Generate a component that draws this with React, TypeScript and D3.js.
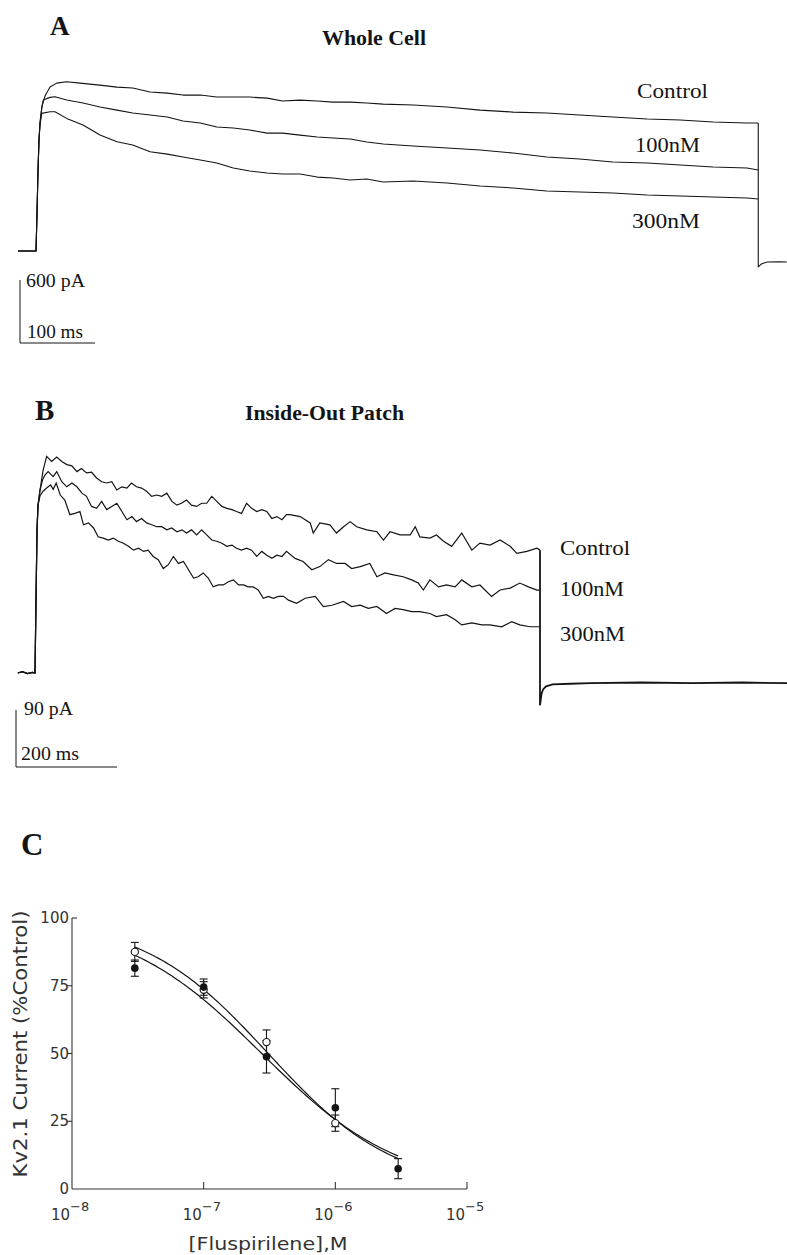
import React from "react";
import * as d3 from "d3";

type Pt = [number, number];

// ---------- Panel A: whole-cell Kv2.1 currents, [time (ms), current (pA)] ----------
const wholeCellControl: Pt[] = [
  [-24, 0], [0, 0], [1.3, 343], [2.7, 771], [4, 1057], [5.3, 1228], [8, 1380], [12, 1476], [18.7, 1561],
  [27.6, 1599], [40.9, 1612], [58.7, 1599], [85, 1580], [108, 1561], [129, 1552], [152, 1514], [175, 1504],
  [196, 1485], [219, 1485], [241, 1466], [263, 1466], [285, 1466], [308, 1456], [329, 1428], [352, 1437],
  [375, 1428], [396, 1418], [419, 1418], [441, 1409], [463, 1399], [503, 1390], [548, 1371], [592, 1342],
  [636, 1323], [681, 1314], [725, 1295], [769, 1276], [815, 1257], [859, 1247], [903, 1228], [948, 1219],
  [963, 1219],
];
const wholeCell100nM: Pt[] = [
  [-24, 0], [0, 0], [1.3, 343], [2.7, 771], [4, 1057], [5.3, 1200], [7.6, 1360], [9.7, 1438], [18.7, 1463],
  [25.3, 1469], [40.9, 1438], [62.7, 1409], [85.3, 1371], [108, 1342], [129, 1314], [152, 1295], [175, 1276],
  [196, 1238], [219, 1219], [241, 1181], [263, 1171], [285, 1152], [308, 1123], [329, 1123], [352, 1104],
  [375, 1085], [396, 1076], [419, 1066], [441, 1038], [463, 1019], [503, 1000], [548, 981], [592, 962],
  [636, 933], [681, 895], [725, 876], [769, 847], [815, 838], [859, 819], [903, 800], [948, 790], [963, 771],
];
const wholeCell300nM: Pt[] = [
  [-24, 0], [0, 0], [1.3, 343], [2.7, 771], [4, 1057], [5.3, 1200], [7.6, 1311], [18.7, 1326], [25.3, 1326],
  [40.9, 1263], [62.7, 1200], [85.3, 1104], [108, 1040], [129, 1009], [152, 945], [175, 923], [196, 895],
  [219, 866], [241, 838], [263, 790], [285, 762], [308, 743], [329, 733], [352, 733], [375, 704], [396, 695],
  [419, 676], [441, 685], [463, 657], [503, 666], [548, 647], [592, 619], [636, 600], [681, 571], [725, 562],
  [769, 552], [815, 533], [859, 524], [903, 514], [948, 505], [963, 495],
];
const wholeCellTail: Pt[] = [
  [963, 1219], [963, -152], [967, -124], [975, -105], [990, -102], [1001, -105],
];
const wholeCellLabels = ["Control", "100nM", "300nM"];

// ---------- Panel B: inside-out patch currents, [time (ms), current (pA)] ----------
const patchControl: Pt[] = [
  [-34, 0], [-25, 2], [-15, -1], [-5, 1], [0, 0], [2, 115], [4, 226], [6, 265], [10, 289], [16, 320],
  [23, 342], [33, 334], [43, 341], [53, 334], [63, 329], [73, 327], [83, 318], [92, 323], [102, 316],
  [112, 317], [122, 308], [132, 302], [142, 300], [152, 302], [162, 289], [172, 294], [182, 292], [191, 300],
  [201, 294], [211, 292], [221, 287], [231, 279], [241, 281], [251, 279], [261, 284], [271, 271], [281, 265],
  [290, 268], [300, 273], [310, 265], [320, 263], [330, 268], [340, 268], [350, 279], [360, 271], [370, 263],
  [380, 260], [390, 258], [399, 255], [409, 252], [419, 268], [429, 260], [439, 255], [449, 258], [459, 255],
  [469, 244], [479, 247], [489, 242], [498, 250], [505, 250], [525, 247], [545, 237], [551, 221], [564, 237],
  [584, 234], [597, 221], [611, 231], [624, 239], [637, 231], [657, 226], [677, 223], [690, 210], [703, 223],
  [723, 218], [743, 218], [753, 231], [762, 215], [782, 213], [795, 218], [809, 208], [825, 200], [845, 221],
  [865, 194], [881, 205], [901, 202], [921, 210], [941, 200], [954, 189], [974, 192], [994, 197], [1000, 194],
];
const patch100nM: Pt[] = [
  [-34, 0], [-25, 2], [-15, -1], [-5, 1], [0, 0], [2, 115], [4, 226], [6, 265], [10, 289], [15, 305],
  [20, 313], [26, 318], [36, 310], [43, 318], [53, 302], [63, 294], [73, 300], [83, 294], [93, 284],
  [102, 279], [112, 263], [122, 260], [132, 271], [142, 258], [152, 263], [162, 268], [172, 255], [182, 242],
  [192, 247], [201, 239], [211, 244], [221, 237], [231, 234], [241, 231], [251, 231], [261, 226], [271, 229],
  [281, 223], [291, 226], [300, 221], [310, 226], [320, 218], [330, 226], [340, 218], [350, 210], [360, 208],
  [370, 205], [380, 200], [390, 202], [399, 197], [409, 194], [419, 197], [429, 194], [439, 184], [449, 192],
  [459, 186], [469, 181], [479, 186], [489, 184], [498, 192], [515, 181], [531, 176], [548, 163], [564, 168],
  [581, 179], [597, 173], [614, 173], [627, 165], [644, 168], [663, 173], [677, 152], [693, 158], [710, 155],
  [729, 152], [746, 147], [759, 142], [769, 131], [782, 147], [799, 136], [815, 139], [832, 136], [845, 147],
  [865, 136], [881, 139], [904, 121], [921, 131], [941, 134], [960, 142], [977, 136], [994, 131], [1000, 131],
];
const patch300nM: Pt[] = [
  [-34, 0], [-25, 2], [-15, -1], [-5, 1], [0, 0], [2, 115], [4, 226], [6, 265], [10, 280], [16, 287],
  [23, 292], [31, 297], [36, 290], [42, 300], [50, 281], [59, 273], [69, 250], [79, 252], [89, 255],
  [96, 234], [106, 237], [116, 229], [125, 215], [135, 213], [145, 210], [155, 213], [165, 208], [175, 205],
  [185, 200], [195, 194], [205, 197], [215, 192], [224, 194], [234, 184], [244, 179], [254, 165], [264, 171],
  [274, 184], [284, 173], [294, 176], [304, 163], [314, 150], [323, 152], [333, 158], [343, 150], [353, 136],
  [363, 139], [373, 139], [383, 144], [393, 147], [403, 139], [413, 139], [422, 136], [432, 136], [442, 131],
  [452, 118], [462, 121], [472, 118], [482, 121], [492, 121], [502, 115], [518, 110], [535, 118], [555, 121],
  [571, 105], [588, 107], [611, 113], [627, 105], [644, 107], [660, 102], [677, 105], [696, 94], [713, 102],
  [729, 100], [746, 97], [762, 97], [782, 94], [795, 89], [815, 92], [832, 84], [845, 76], [865, 79],
  [885, 76], [901, 76], [924, 73], [944, 81], [960, 76], [980, 73], [1000, 73],
];
const patchTail: Pt[] = [
  [1000, 194], [1000, -51], [1003, -33], [1006, -26], [1012, -21], [1025, -18], [1060, -17], [1100, -16],
  [1200, -15], [1300, -16], [1400, -15], [1490, -16],
];
const patchLabels = ["Control", "100nM", "300nM"];

// ---------- Panel C: concentration–response ----------
const concentrations = [3e-8, 1e-7, 3e-7, 1e-6, 3e-6];
const openMean = [87.5, 73.5, 54.2, 24.3];
const openErr = [3.5, 3, 4.5, 3];
const filledMean = [81.5, 74.5, 48.8, 30, 7.5];
const filledErr = [3, 3, 6, 7, 3.7];
// Hill fits: IC50 (M) and Hill coefficient
const openFit = { ic50: 3.09e-7, hill: 0.909 };
const filledFit = { ic50: 2.76e-7, hill: 0.828 };
const xTickExps = [-8, -7, -6, -5];
const yTicks = [0, 25, 50, 75, 100];

const SERIF = "'Liberation Serif', 'Times New Roman', serif";
const PLOT = "'DejaVu Sans', 'Liberation Sans', sans-serif";
const INK = "#141414";

export default function App() {
  // Panel A scales
  const xA = d3.scaleLinear().domain([0, 100]).range([36, 111]);
  const yA = d3.scaleLinear().domain([0, 600]).range([251, 188]);
  const lineA = d3.line<Pt>().x((d) => xA(d[0])).y((d) => yA(d[1]));

  // Panel B scales
  const xB = d3.scaleLinear().domain([0, 1000]).range([35, 540]);
  const yB = d3.scaleLinear().domain([0, 90]).range([673, 616]);
  const lineB = d3.line<Pt>().x((d) => xB(d[0])).y((d) => yB(d[1]));

  // Panel C scales
  const xC = d3.scaleLog().domain([1e-8, 1e-5]).range([72, 467]);
  const yC = d3.scaleLinear().domain([0, 100]).range([1189, 918]);
  const hill = (f: { ic50: number; hill: number }) => (c: number) =>
    100 / (1 + Math.pow(c / f.ic50, f.hill));
  const fitCurve = (f: { ic50: number; hill: number }) => {
    const g = hill(f);
    const logs = d3.range(Math.log10(3e-8), Math.log10(3e-6) + 1e-9, 0.02);
    return d3
      .line<number>()
      .x((l) => xC(Math.pow(10, l)))
      .y((l) => yC(g(Math.pow(10, l))))(logs) as string;
  };

  const barA = { x: 20, y: 343 };
  const barB = { x: 16, y: 767 };

  return (
    <svg
      width={787}
      height={1255}
      style={{ position: "absolute", left: 0, top: 0, background: "#fff" }}
    >
      {/* ===== Panel A ===== */}
      <text x={50} y={35} fontFamily={SERIF} fontWeight="bold" fontSize={27} fill={INK}>A</text>
      <text x={322} y={45} fontFamily={SERIF} fontWeight="bold" fontSize={20} fill={INK}
        textLength={104} lengthAdjust="spacingAndGlyphs">Whole Cell</text>
      <g fill="none" stroke={INK} strokeWidth={1.1} strokeLinejoin="round">
        <path d={lineA(wholeCell300nM) as string} />
        <path d={lineA(wholeCell100nM) as string} />
        <path d={lineA(wholeCellControl) as string} />
        <path d={lineA(wholeCellTail) as string} />
      </g>
      <g fontFamily={SERIF} fontSize={22} fill={INK}>
        <text x={637} y={98} textLength={71} lengthAdjust="spacingAndGlyphs">{wholeCellLabels[0]}</text>
        <text x={635} y={152} textLength={65} lengthAdjust="spacingAndGlyphs">{wholeCellLabels[1]}</text>
        <text x={632} y={228} textLength={68} lengthAdjust="spacingAndGlyphs">{wholeCellLabels[2]}</text>
      </g>
      {/* scale bar A */}
      <g stroke={INK} strokeWidth={1}>
        <line x1={barA.x} x2={barA.x} y1={barA.y} y2={barA.y - (yA(0) - yA(600))} />
        <line x1={barA.x} x2={barA.x + (xA(100) - xA(0))} y1={barA.y} y2={barA.y} />
      </g>
      <g fontFamily={SERIF} fontSize={18} fill={INK}>
        <text x={26} y={287} textLength={59} lengthAdjust="spacingAndGlyphs">600 pA</text>
        <text x={27} y={338} textLength={56} lengthAdjust="spacingAndGlyphs">100 ms</text>
      </g>

      {/* ===== Panel B ===== */}
      <text x={35} y={420} fontFamily={SERIF} fontWeight="bold" fontSize={29} fill={INK}>B</text>
      <text x={245} y={420} fontFamily={SERIF} fontWeight="bold" fontSize={20} fill={INK}
        textLength={159} lengthAdjust="spacingAndGlyphs">Inside-Out Patch</text>
      <g fill="none" stroke={INK} strokeWidth={1.2} strokeLinejoin="miter">
        <path d={lineB(patch300nM) as string} />
        <path d={lineB(patch100nM) as string} />
        <path d={lineB(patchControl) as string} />
        <path d={lineB(patchTail) as string} strokeWidth={1.8} />
      </g>
      <g fontFamily={SERIF} fontSize={21} fill={INK}>
        <text x={560} y={555} textLength={70} lengthAdjust="spacingAndGlyphs">{patchLabels[0]}</text>
        <text x={560} y={596} textLength={64} lengthAdjust="spacingAndGlyphs">{patchLabels[1]}</text>
        <text x={560} y={641} textLength={65} lengthAdjust="spacingAndGlyphs">{patchLabels[2]}</text>
      </g>
      {/* scale bar B */}
      <g stroke={INK} strokeWidth={1}>
        <line x1={barB.x} x2={barB.x} y1={barB.y} y2={barB.y - (yB(0) - yB(90))} />
        <line x1={barB.x} x2={barB.x + (xB(200) - xB(0))} y1={barB.y} y2={barB.y} />
      </g>
      <g fontFamily={SERIF} fontSize={18} fill={INK}>
        <text x={24} y={715} textLength={49} lengthAdjust="spacingAndGlyphs">90 pA</text>
        <text x={21} y={760} textLength={58} lengthAdjust="spacingAndGlyphs">200 ms</text>
      </g>

      {/* ===== Panel C ===== */}
      <text x={21} y={855} fontFamily={SERIF} fontWeight="bold" fontSize={31} fill={INK}>C</text>
      <g stroke="#333" strokeWidth={1.1} fill="none">
        <line x1={xC(1e-8)} x2={xC(1e-5)} y1={yC(0)} y2={yC(0)} />
        <line x1={xC(1e-8)} x2={xC(1e-8)} y1={yC(0)} y2={yC(100)} />
        {xTickExps.slice(1).map((e) => (
          <line key={e} x1={xC(Math.pow(10, e))} x2={xC(Math.pow(10, e))} y1={yC(0)} y2={yC(0) - 7} />
        ))}
        {yTicks.slice(1).map((v) => (
          <line key={v} x1={xC(1e-8)} x2={xC(1e-8) + (v === 100 ? 5 : -5)} y1={yC(v)} y2={yC(v)} />
        ))}
      </g>
      <g fontFamily={PLOT} fontSize={15} fill="#333" textAnchor="end">
        {yTicks.map((v) => (
          <text key={v} x={xC(1e-8) - 3} y={yC(v) + 5}>{v}</text>
        ))}
      </g>
      <g fontFamily={PLOT} fill="#333">
        {xTickExps.map((e) => (
          <text key={e} x={xC(Math.pow(10, e)) - 21} y={1220} fontSize={15}>
            10<tspan dy={-9} fontSize={13}>{"\u2212" + Math.abs(e)}</tspan>
          </text>
        ))}
      </g>
      <text x={268} y={1250} textAnchor="middle" fontFamily={PLOT} fontSize={17} fill="#333"
        textLength={159} lengthAdjust="spacingAndGlyphs">[Fluspirilene],M</text>
      <text transform="translate(27,1044) rotate(-90)" textAnchor="middle" fontFamily={PLOT}
        fontSize={19} fill="#333" textLength={267} lengthAdjust="spacingAndGlyphs">
        Kv2.1 Current (%Control)
      </text>

      {/* Hill fits */}
      <g fill="none" stroke={INK} strokeWidth={1.2}>
        <path d={fitCurve(openFit)} />
        <path d={fitCurve(filledFit)} />
      </g>

      {/* error bars */}
      <g stroke={INK} strokeWidth={1.1}>
        {openMean.map((m, i) => {
          const x = xC(concentrations[i]);
          const e = openErr[i];
          return (
            <g key={"oe" + i}>
              <line x1={x} x2={x} y1={yC(m - e)} y2={yC(m + e)} />
              <line x1={x - 4} x2={x + 4} y1={yC(m - e)} y2={yC(m - e)} />
              <line x1={x - 4} x2={x + 4} y1={yC(m + e)} y2={yC(m + e)} />
            </g>
          );
        })}
        {filledMean.map((m, i) => {
          const x = xC(concentrations[i]);
          const e = filledErr[i];
          return (
            <g key={"fe" + i}>
              <line x1={x} x2={x} y1={yC(m - e)} y2={yC(m + e)} />
              <line x1={x - 4} x2={x + 4} y1={yC(m - e)} y2={yC(m - e)} />
              <line x1={x - 4} x2={x + 4} y1={yC(m + e)} y2={yC(m + e)} />
            </g>
          );
        })}
      </g>
      {openMean.map((m, i) => (
        <circle key={"o" + i} cx={xC(concentrations[i])} cy={yC(m)} r={3.6} fill="#fff" stroke={INK} strokeWidth={1.1} />
      ))}
      {filledMean.map((m, i) => (
        <circle key={"f" + i} cx={xC(concentrations[i])} cy={yC(m)} r={3.8} fill={INK} />
      ))}
    </svg>
  );
}
